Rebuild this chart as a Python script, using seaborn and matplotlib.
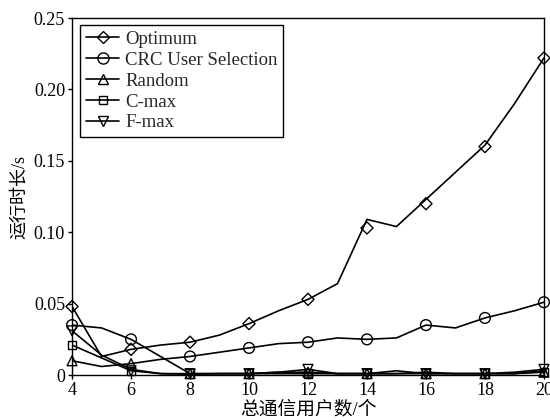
import matplotlib
matplotlib.use("Agg")
import matplotlib.pyplot as plt
from matplotlib.lines import Line2D
import seaborn as sns
import pandas as pd

sns.set_theme(style="white")
plt.rcParams['font.family'] = ['Liberation Serif', 'Noto Sans CJK SC', 'DejaVu Sans']
plt.rcParams['mathtext.fontset'] = 'stix'

# x positions of the lines (every integer) and of the markers (every 2)
x_line = [4, 5, 6, 7, 8, 9, 10, 11, 12, 13, 14, 15, 16, 17, 18, 19, 20]
x_mark = [4, 6, 8, 10, 12, 14, 16, 18, 20]

# line values (seconds)
line_opt = [0.048, 0.013, 0.018, 0.021, 0.023, 0.028, 0.036, 0.045, 0.053, 0.064,
            0.109, 0.104, 0.123, 0.142, 0.161, 0.190, 0.222]
line_crc = [0.010, 0.006, 0.008, 0.011, 0.013, 0.016, 0.019, 0.022, 0.023, 0.026,
            0.025, 0.026, 0.035, 0.033, 0.040, 0.045, 0.051]
line_a = [0.035, 0.033, 0.025, 0.013, 0.001, 0.001, 0.001, 0.002, 0.002, 0.001,
          0.001, 0.003, 0.001, 0.001, 0.001, 0.001, 0.003]
line_b = [0.031, 0.014, 0.004, 0.001, 0.001, 0.001, 0.001, 0.002, 0.004, 0.001,
          0.001, 0.001, 0.002, 0.001, 0.001, 0.002, 0.004]
line_c = [0.021, 0.012, 0.003, 0.001, 0.0005, 0.001, 0.001, 0.001, 0.001, 0.001,
          0.001, 0.001, 0.001, 0.001, 0.001, 0.001, 0.002]

# marker values (seconds)
mark_opt = [0.048, 0.018, 0.023, 0.036, 0.053, 0.103, 0.120, 0.160, 0.222]
mark_crc = [0.035, 0.025, 0.013, 0.019, 0.023, 0.025, 0.035, 0.040, 0.051]
mark_rand = [0.010, 0.008, 0.001, 0.001, 0.002, 0.001, 0.001, 0.001, 0.002]
mark_cmax = [0.021, 0.003, 0.001, 0.001, 0.001, 0.001, 0.001, 0.001, 0.002]
mark_fmax = [0.031, 0.003, 0.001, 0.001, 0.004, 0.001, 0.001, 0.001, 0.004]

series_names = ["Optimum", "CRC User Selection", "Random", "C-max", "F-max"]
series_markers = ["D", "o", "^", "s", "v"]
marker_sizes = [38, 60, 50, 36, 50]

y_ticks = [0, 0.05, 0.10, 0.15, 0.20, 0.25]
y_tick_labels = ["0", "0.05", "0.10", "0.15", "0.20", "0.25"]
x_ticks = [4, 6, 8, 10, 12, 14, 16, 18, 20]

fig = plt.figure(figsize=(5.5, 4.2), dpi=100)
ax = fig.add_axes([0.131, 0.107, 0.858, 0.850])

for vals in [line_opt, line_crc, line_a, line_b, line_c]:
    df = pd.DataFrame({"x": x_line, "y": vals})
    sns.lineplot(data=df, x="x", y="y", ax=ax, color="black", linewidth=1.2,
                 estimator=None, sort=False)

marks = [mark_opt, mark_crc, mark_rand, mark_cmax, mark_fmax]
for vals, mk, sz in zip(marks, series_markers, marker_sizes):
    df = pd.DataFrame({"x": x_mark, "y": vals})
    sns.scatterplot(data=df, x="x", y="y", ax=ax, marker=mk, s=sz,
                    facecolors="none", edgecolor="black", linewidth=1.0,
                    zorder=3, clip_on=False)

ax.set_xlim(4, 20)
ax.set_ylim(0, 0.25)
ax.set_xticks(x_ticks)
ax.set_xticklabels([str(t) for t in x_ticks])
ax.set_yticks(y_ticks)
ax.set_yticklabels(y_tick_labels)
ax.tick_params(axis="both", direction="out", length=3, width=1, colors="black",
               labelsize=13, pad=2, bottom=True, left=True, top=False, right=False)
for sp in ax.spines.values():
    sp.set_color("black")
    sp.set_linewidth(1.0)

ax.set_xlabel("总通信用户数/个", fontsize=13.5, color="black", labelpad=1)
ax.set_ylabel("运行时长/s", fontsize=13, color="black", labelpad=4)

handles = [Line2D([0], [0], color="black", linewidth=1.2, marker=mk,
                  markersize=ms, markerfacecolor="none", markeredgecolor="black")
           for mk, ms in zip(series_markers, [6, 8, 7, 6, 7])]
leg = ax.legend(handles, series_names, loc="upper left",
                bbox_to_anchor=(0.017, 0.98), frameon=True, fancybox=False,
                edgecolor="black", fontsize=13.5, handlelength=1.8,
                handletextpad=0.3, labelspacing=0.2, borderpad=0.3,
                borderaxespad=0.0)
leg.get_frame().set_linewidth(1.0)
leg.get_frame().set_alpha(1)

fig.savefig("out.png", dpi=100)
